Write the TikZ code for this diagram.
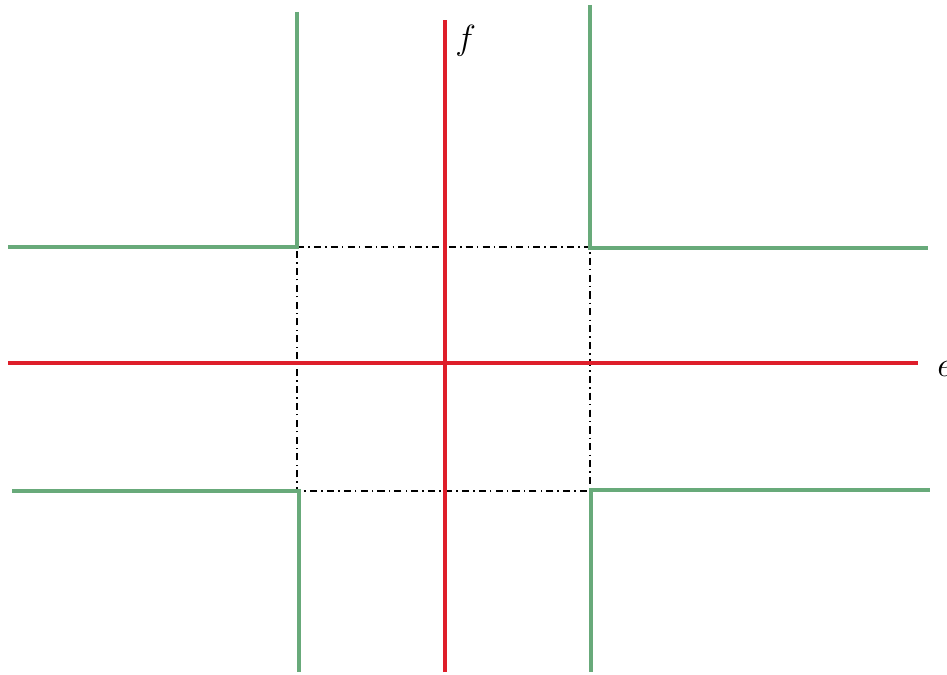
\documentclass[tikz,border=0pt]{standalone}
\usetikzlibrary{calc}
\definecolor{axred}{RGB}{222,30,42}
\definecolor{bgreen}{RGB}{104,170,122}
\begin{document}
\begin{tikzpicture}[x=0.025cm,y=-0.025cm,
  axis/.style={draw=axred,line width=2.2pt},
  bound/.style={draw=bgreen,line width=2.2pt},
  region/.style={draw=black,line width=1pt,dash pattern=on 5pt off 3pt on 1pt off 3pt},
  lab/.style={font=\fontsize{23}{27}\selectfont,inner sep=0pt}]
\useasboundingbox (0,0) rectangle (947,675);
% axis end points
\coordinate (fT) at (445,20);
\coordinate (fB) at (445,672);
\coordinate (eL) at (8,363);
\coordinate (eR) at (918,363);
% region corners
\coordinate (c1) at (297,247);
\coordinate (c2) at (590,247);
\coordinate (c3) at (590,491);
\coordinate (c4) at (297,491);
% green boundaries
\coordinate (g1a) at (297,12);  \coordinate (g1b) at (8,247);
\coordinate (g2a) at (590,5);   \coordinate (g2b) at (928,248);
\coordinate (g3a) at (12,491);  \coordinate (g3b) at (299,672);
\coordinate (g4a) at (591,672); \coordinate (g4b) at (930,490);
\draw[region] (c1) -- (c2) -- (c3) -- (c4) -- cycle;
\draw[bound] (g1a) |- (g1b);
\draw[bound] (g2a) |- (g2b);
\draw[bound] (g3a) -| (g3b);
\draw[bound] (g4a) |- (g4b);
\draw[axis] (fB) -- (fT);
\draw[axis] (eL) -- (eR);
\node[lab,anchor=west] (f) at (455,41) {$f$};
\node[lab,anchor=west] (e) at (937,369) {$e$};
\end{tikzpicture}
\end{document}
